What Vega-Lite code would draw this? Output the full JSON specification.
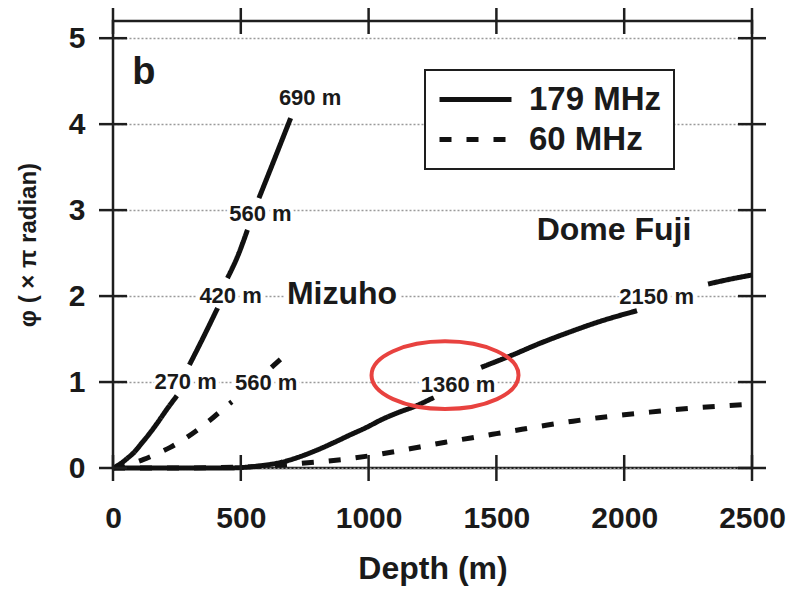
{
  "$schema": "https://vega.github.io/schema/vega-lite/v6.json",
  "autosize": {"type": "none"},
  "padding": {"left": 113, "top": 21, "right": 44, "bottom": 121},
  "width": 639,
  "height": 447,
  "background": "white",
  "config": {
    "font": "Liberation Sans",
    "view": {"stroke": "#1e1e1e", "strokeWidth": 2.5},
    "legend": {"strokeWidth": 2}
  },
  "datasets": {
    "lines": [
      {"site": "Mizuho", "freq": "179 MHz", "seg": "M179-1", "depth": 0, "phi": 0},
      {"site": "Mizuho", "freq": "179 MHz", "seg": "M179-1", "depth": 25, "phi": 0.04},
      {"site": "Mizuho", "freq": "179 MHz", "seg": "M179-1", "depth": 55, "phi": 0.11},
      {"site": "Mizuho", "freq": "179 MHz", "seg": "M179-1", "depth": 85, "phi": 0.19},
      {"site": "Mizuho", "freq": "179 MHz", "seg": "M179-1", "depth": 110, "phi": 0.28},
      {"site": "Mizuho", "freq": "179 MHz", "seg": "M179-1", "depth": 140, "phi": 0.39},
      {"site": "Mizuho", "freq": "179 MHz", "seg": "M179-1", "depth": 175, "phi": 0.53},
      {"site": "Mizuho", "freq": "179 MHz", "seg": "M179-1", "depth": 210, "phi": 0.68},
      {"site": "Mizuho", "freq": "179 MHz", "seg": "M179-1", "depth": 250, "phi": 0.84},
      {"site": "Mizuho", "freq": "179 MHz", "seg": "M179-2", "depth": 299, "phi": 1.2},
      {"site": "Mizuho", "freq": "179 MHz", "seg": "M179-2", "depth": 350, "phi": 1.5},
      {"site": "Mizuho", "freq": "179 MHz", "seg": "M179-2", "depth": 409, "phi": 1.86},
      {"site": "Mizuho", "freq": "179 MHz", "seg": "M179-3", "depth": 448, "phi": 2.21},
      {"site": "Mizuho", "freq": "179 MHz", "seg": "M179-3", "depth": 490, "phi": 2.48},
      {"site": "Mizuho", "freq": "179 MHz", "seg": "M179-3", "depth": 526, "phi": 2.77},
      {"site": "Mizuho", "freq": "179 MHz", "seg": "M179-4", "depth": 571, "phi": 3.14},
      {"site": "Mizuho", "freq": "179 MHz", "seg": "M179-4", "depth": 630, "phi": 3.58},
      {"site": "Mizuho", "freq": "179 MHz", "seg": "M179-4", "depth": 695, "phi": 4.07},
      {"site": "Mizuho", "freq": "60 MHz", "seg": "M60-1", "depth": 0, "phi": 0},
      {"site": "Mizuho", "freq": "60 MHz", "seg": "M60-1", "depth": 60, "phi": 0.04},
      {"site": "Mizuho", "freq": "60 MHz", "seg": "M60-1", "depth": 120, "phi": 0.1},
      {"site": "Mizuho", "freq": "60 MHz", "seg": "M60-1", "depth": 175, "phi": 0.17},
      {"site": "Mizuho", "freq": "60 MHz", "seg": "M60-1", "depth": 224, "phi": 0.24},
      {"site": "Mizuho", "freq": "60 MHz", "seg": "M60-1", "depth": 275, "phi": 0.33},
      {"site": "Mizuho", "freq": "60 MHz", "seg": "M60-1", "depth": 329, "phi": 0.44},
      {"site": "Mizuho", "freq": "60 MHz", "seg": "M60-1", "depth": 385, "phi": 0.57},
      {"site": "Mizuho", "freq": "60 MHz", "seg": "M60-1", "depth": 440, "phi": 0.71},
      {"site": "Mizuho", "freq": "60 MHz", "seg": "M60-1", "depth": 465, "phi": 0.77},
      {"site": "Mizuho", "freq": "60 MHz", "seg": "M60-2", "depth": 620, "phi": 1.17},
      {"site": "Mizuho", "freq": "60 MHz", "seg": "M60-2", "depth": 665, "phi": 1.29},
      {"site": "Dome Fuji", "freq": "179 MHz", "seg": "D179-1", "depth": 0, "phi": 0},
      {"site": "Dome Fuji", "freq": "179 MHz", "seg": "D179-1", "depth": 250, "phi": 0},
      {"site": "Dome Fuji", "freq": "179 MHz", "seg": "D179-1", "depth": 450, "phi": 0},
      {"site": "Dome Fuji", "freq": "179 MHz", "seg": "D179-1", "depth": 500, "phi": 0.005},
      {"site": "Dome Fuji", "freq": "179 MHz", "seg": "D179-1", "depth": 560, "phi": 0.02},
      {"site": "Dome Fuji", "freq": "179 MHz", "seg": "D179-1", "depth": 600, "phi": 0.035},
      {"site": "Dome Fuji", "freq": "179 MHz", "seg": "D179-1", "depth": 659, "phi": 0.066},
      {"site": "Dome Fuji", "freq": "179 MHz", "seg": "D179-1", "depth": 720, "phi": 0.12},
      {"site": "Dome Fuji", "freq": "179 MHz", "seg": "D179-1", "depth": 791, "phi": 0.2},
      {"site": "Dome Fuji", "freq": "179 MHz", "seg": "D179-1", "depth": 860, "phi": 0.29},
      {"site": "Dome Fuji", "freq": "179 MHz", "seg": "D179-1", "depth": 924, "phi": 0.38},
      {"site": "Dome Fuji", "freq": "179 MHz", "seg": "D179-1", "depth": 990, "phi": 0.47},
      {"site": "Dome Fuji", "freq": "179 MHz", "seg": "D179-1", "depth": 1056, "phi": 0.57},
      {"site": "Dome Fuji", "freq": "179 MHz", "seg": "D179-1", "depth": 1120, "phi": 0.65},
      {"site": "Dome Fuji", "freq": "179 MHz", "seg": "D179-1", "depth": 1175, "phi": 0.71},
      {"site": "Dome Fuji", "freq": "179 MHz", "seg": "D179-1", "depth": 1255, "phi": 0.82},
      {"site": "Dome Fuji", "freq": "179 MHz", "seg": "D179-2", "depth": 1440, "phi": 1.17},
      {"site": "Dome Fuji", "freq": "179 MHz", "seg": "D179-2", "depth": 1500, "phi": 1.24},
      {"site": "Dome Fuji", "freq": "179 MHz", "seg": "D179-2", "depth": 1559, "phi": 1.31},
      {"site": "Dome Fuji", "freq": "179 MHz", "seg": "D179-2", "depth": 1670, "phi": 1.45},
      {"site": "Dome Fuji", "freq": "179 MHz", "seg": "D179-2", "depth": 1785, "phi": 1.58},
      {"site": "Dome Fuji", "freq": "179 MHz", "seg": "D179-2", "depth": 1900, "phi": 1.7},
      {"site": "Dome Fuji", "freq": "179 MHz", "seg": "D179-2", "depth": 2050, "phi": 1.83},
      {"site": "Dome Fuji", "freq": "179 MHz", "seg": "D179-3", "depth": 2328, "phi": 2.14},
      {"site": "Dome Fuji", "freq": "179 MHz", "seg": "D179-3", "depth": 2420, "phi": 2.2},
      {"site": "Dome Fuji", "freq": "179 MHz", "seg": "D179-3", "depth": 2500, "phi": 2.245},
      {"site": "Dome Fuji", "freq": "60 MHz", "seg": "D60-1", "depth": 0, "phi": 0},
      {"site": "Dome Fuji", "freq": "60 MHz", "seg": "D60-1", "depth": 250, "phi": 0},
      {"site": "Dome Fuji", "freq": "60 MHz", "seg": "D60-1", "depth": 500, "phi": 0.01},
      {"site": "Dome Fuji", "freq": "60 MHz", "seg": "D60-1", "depth": 600, "phi": 0.025},
      {"site": "Dome Fuji", "freq": "60 MHz", "seg": "D60-1", "depth": 700, "phi": 0.045},
      {"site": "Dome Fuji", "freq": "60 MHz", "seg": "D60-1", "depth": 800, "phi": 0.07},
      {"site": "Dome Fuji", "freq": "60 MHz", "seg": "D60-1", "depth": 900, "phi": 0.1},
      {"site": "Dome Fuji", "freq": "60 MHz", "seg": "D60-1", "depth": 1000, "phi": 0.14},
      {"site": "Dome Fuji", "freq": "60 MHz", "seg": "D60-1", "depth": 1100, "phi": 0.19},
      {"site": "Dome Fuji", "freq": "60 MHz", "seg": "D60-1", "depth": 1200, "phi": 0.245},
      {"site": "Dome Fuji", "freq": "60 MHz", "seg": "D60-1", "depth": 1300, "phi": 0.3},
      {"site": "Dome Fuji", "freq": "60 MHz", "seg": "D60-1", "depth": 1400, "phi": 0.35},
      {"site": "Dome Fuji", "freq": "60 MHz", "seg": "D60-1", "depth": 1500, "phi": 0.4},
      {"site": "Dome Fuji", "freq": "60 MHz", "seg": "D60-1", "depth": 1600, "phi": 0.45},
      {"site": "Dome Fuji", "freq": "60 MHz", "seg": "D60-1", "depth": 1700, "phi": 0.5},
      {"site": "Dome Fuji", "freq": "60 MHz", "seg": "D60-1", "depth": 1800, "phi": 0.545},
      {"site": "Dome Fuji", "freq": "60 MHz", "seg": "D60-1", "depth": 1900, "phi": 0.585},
      {"site": "Dome Fuji", "freq": "60 MHz", "seg": "D60-1", "depth": 2000, "phi": 0.62},
      {"site": "Dome Fuji", "freq": "60 MHz", "seg": "D60-1", "depth": 2100, "phi": 0.65},
      {"site": "Dome Fuji", "freq": "60 MHz", "seg": "D60-1", "depth": 2200, "phi": 0.68},
      {"site": "Dome Fuji", "freq": "60 MHz", "seg": "D60-1", "depth": 2300, "phi": 0.705},
      {"site": "Dome Fuji", "freq": "60 MHz", "seg": "D60-1", "depth": 2400, "phi": 0.725},
      {"site": "Dome Fuji", "freq": "60 MHz", "seg": "D60-1", "depth": 2480, "phi": 0.74}
    ],
    "xticks": [
      {"depth": 0, "phi": 0}, {"depth": 500, "phi": 0}, {"depth": 1000, "phi": 0},
      {"depth": 1500, "phi": 0}, {"depth": 2000, "phi": 0}, {"depth": 2500, "phi": 0},
      {"depth": 0, "phi": 5.2}, {"depth": 500, "phi": 5.2}, {"depth": 1000, "phi": 5.2},
      {"depth": 1500, "phi": 5.2}, {"depth": 2000, "phi": 5.2}, {"depth": 2500, "phi": 5.2}
    ],
    "yticks": [
      {"depth": 0, "phi": 0}, {"depth": 0, "phi": 1}, {"depth": 0, "phi": 2},
      {"depth": 0, "phi": 3}, {"depth": 0, "phi": 4}, {"depth": 0, "phi": 5},
      {"depth": 2500, "phi": 0}, {"depth": 2500, "phi": 1}, {"depth": 2500, "phi": 2},
      {"depth": 2500, "phi": 3}, {"depth": 2500, "phi": 4}, {"depth": 2500, "phi": 5}
    ],
    "depthLabels": [
      {"depth": 771, "phi": 4.3, "text": "690 m"},
      {"depth": 577, "phi": 2.96, "text": "560 m"},
      {"depth": 460, "phi": 2.0, "text": "420 m"},
      {"depth": 284, "phi": 1.0, "text": "270 m"},
      {"depth": 599, "phi": 0.99, "text": "560 m"},
      {"depth": 1350, "phi": 0.965, "text": "1360 m"},
      {"depth": 2127, "phi": 1.99, "text": "2150 m"}
    ],
    "sites": [
      {"depth": 896, "phi": 2.02, "text": "Mizuho"},
      {"depth": 1960, "phi": 2.77, "text": "Dome Fuji"}
    ],
    "panel": [
      {"depth": 121, "phi": 4.59, "text": "b"}
    ],
    "highlight": [
      {"depth": 1299, "phi": 1.08}
    ]
  },
  "encoding": {
    "x": {
      "field": "depth", "type": "quantitative",
      "scale": {"domain": [0, 2500], "nice": false, "zero": false},
      "axis": {
        "title": "Depth (m)",
        "values": [0, 500, 1000, 1500, 2000, 2500],
        "format": "d",
        "ticks": false, "domain": false, "grid": false,
        "labelFontSize": 30, "labelFontWeight": "bold", "labelColor": "#1a1a1a",
        "labelPadding": 35, "labelFlush": false,
        "titleFontSize": 32, "titleFontWeight": "bold", "titleColor": "#1a1a1a",
        "titlePadding": 20
      }
    },
    "y": {
      "field": "phi", "type": "quantitative",
      "scale": {"domain": [0, 5.2], "nice": false, "zero": false},
      "axis": {
        "title": "φ ( × π radian)",
        "values": [0, 1, 2, 3, 4, 5],
        "format": "d",
        "ticks": false, "domain": false, "grid": true,
        "gridColor": "#9a9a9a", "gridDash": [2, 2], "gridWidth": 1.5,
        "labelFontSize": 30, "labelFontWeight": "bold", "labelColor": "#1a1a1a",
        "labelPadding": 28, "labelFlush": false,
        "titleFontSize": 24, "titleFontWeight": "bold", "titleColor": "#1a1a1a",
        "titlePadding": 28
      }
    }
  },
  "layer": [
    {
      "data": {"name": "lines"},
      "mark": {"type": "line", "color": "#111111", "strokeWidth": 5, "interpolate": "monotone", "strokeCap": "butt"},
      "encoding": {
        "detail": {"field": "seg", "type": "nominal"},
        "strokeDash": {
          "field": "freq", "type": "nominal",
          "scale": {"domain": ["179 MHz", "60 MHz"], "range": [[1, 0], [12, 15]]},
          "legend": {
            "title": null, "orient": "none", "legendX": 312, "legendY": 49,
            "fillColor": "white", "strokeColor": "#1e1e1e", "padding": 12,
            "symbolType": "M -1 0 L 3.8 0", "symbolSize": 900, "symbolStrokeWidth": 5,
            "symbolStrokeColor": "#111111",
            "labelFontSize": 33, "labelFontWeight": "bold", "labelColor": "#1a1a1a",
            "labelOffset": 57, "rowPadding": 5
          }
        }
      }
    },
    {
      "data": {"name": "xticks"},
      "mark": {"type": "tick", "orient": "vertical", "size": 26, "thickness": 2.5, "color": "#1e1e1e", "opacity": 1}
    },
    {
      "data": {"name": "yticks"},
      "mark": {"type": "tick", "orient": "horizontal", "size": 28, "thickness": 2.5, "color": "#1e1e1e", "opacity": 1}
    },
    {
      "data": {"name": "highlight"},
      "mark": {
        "type": "point",
        "shape": "M -1 0 A 1 0.46 0 1 1 1 0 A 1 0.46 0 1 1 -1 0 Z",
        "size": 21609, "filled": false, "color": "#e8423f", "strokeWidth": 4, "opacity": 1
      }
    },
    {
      "data": {"name": "depthLabels"},
      "mark": {"type": "text", "font": "Liberation Sans", "fontSize": 22, "fontWeight": "bold", "color": "white", "stroke": "white", "strokeWidth": 7, "strokeJoin": "round", "align": "center", "baseline": "middle"},
      "encoding": {"text": {"field": "text"}}
    },
    {
      "data": {"name": "depthLabels"},
      "mark": {"type": "text", "font": "Liberation Sans", "fontSize": 22, "fontWeight": "bold", "color": "#1a1a1a", "align": "center", "baseline": "middle"},
      "encoding": {"text": {"field": "text"}}
    },
    {
      "data": {"name": "sites"},
      "mark": {"type": "text", "font": "Liberation Sans", "fontSize": 32, "fontWeight": "bold", "color": "white", "stroke": "white", "strokeWidth": 10, "strokeJoin": "round", "align": "center", "baseline": "middle"},
      "encoding": {"text": {"field": "text"}}
    },
    {
      "data": {"name": "sites"},
      "mark": {"type": "text", "font": "Liberation Sans", "fontSize": 32, "fontWeight": "bold", "color": "#1a1a1a", "align": "center", "baseline": "middle"},
      "encoding": {"text": {"field": "text"}}
    },
    {
      "data": {"name": "panel"},
      "mark": {"type": "text", "font": "Liberation Sans", "fontSize": 38, "fontWeight": "bold", "color": "#1a1a1a", "align": "center", "baseline": "middle"},
      "encoding": {"text": {"field": "text"}}
    }
  ]
}
